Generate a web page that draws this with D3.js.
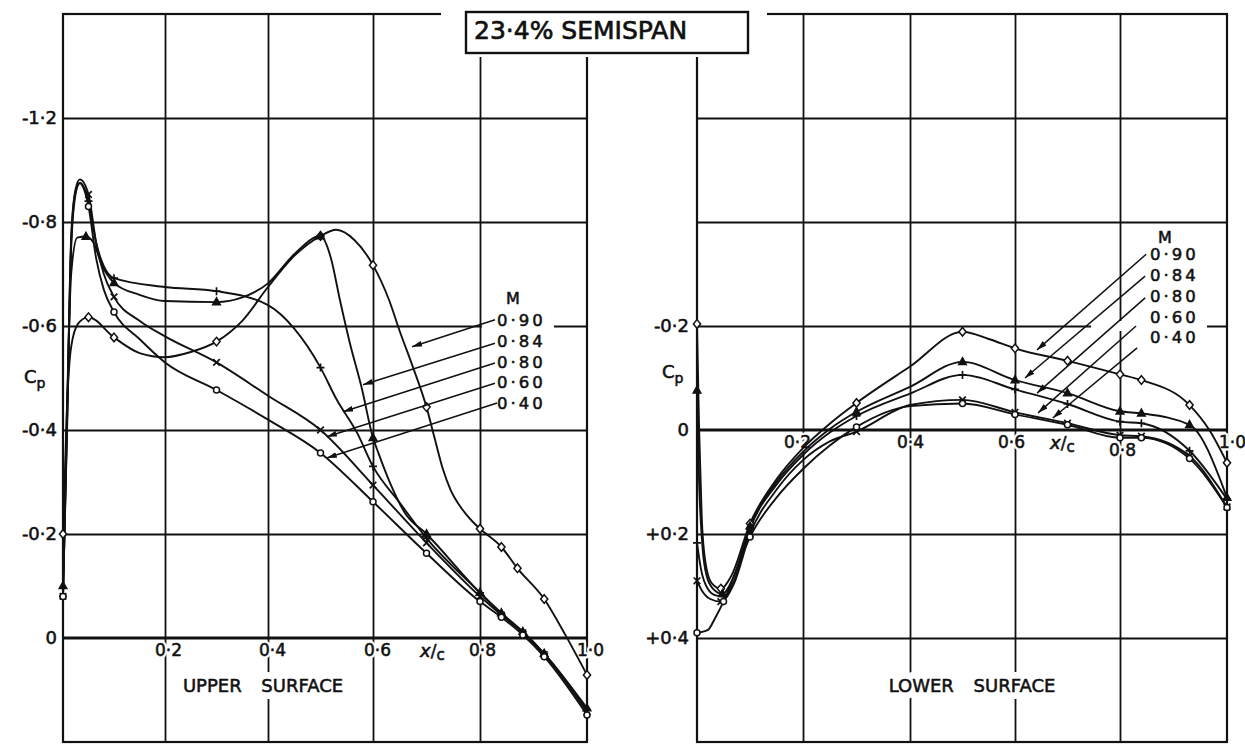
<!DOCTYPE html>
<html>
<head>
<meta charset="utf-8">
<script src="https://cdn.jsdelivr.net/npm/d3@7"></script>
<style>
  html, body { margin: 0; padding: 0; background: #fff; }
  svg { display: block; }
  text { font-family: "DejaVu Sans", sans-serif; fill: #111; }
</style>
</head>
<body>
<svg id="chart" width="1245" height="745"></svg>
<script>
// ---- Data -------------------------------------------------------------
const machLabels = ["0·90", "0·84", "0·80", "0·60", "0·40"];
const markerShapes = ["diamond", "triangle", "plus", "cross", "circle"];

const xGridValues = [0.2, 0.4, 0.6, 0.8];
const xTickValues = [0.2, 0.4, 0.6, 0.8, 1.0];
const xTickLabels = ["0·2", "0·4", "0·6", "0·8", "1·0"];

const upperYGrid = [-1.0, -0.8, -0.6, -0.4, -0.2];
const upperYTicks = [0, -0.2, -0.4, -0.6, -0.8, -1.0];
const upperYTickLabels = ["0", "-0·2", "-0·4", "-0·6", "-0·8", "-1·2"];

const lowerYGrid = [-0.6, -0.4, -0.2, 0.2, 0.4];
const lowerYTicks = [0.4, 0.2, 0, -0.2];
const lowerYTickLabels = ["+0·4", "+0·2", "0", "-0·2"];

// each point: [x/c, Cp, 1 = measured orifice (marker drawn)]
const upperM090 = [[0,-0.2,1],[0.008,-0.45,0],[0.016,-0.56,0],[0.03,-0.605,0],[0.05,-0.617,1],[0.1,-0.578,1],
  [0.15,-0.548,0],[0.2,-0.54,0],[0.25,-0.55,0],[0.3,-0.57,1],[0.35,-0.61,0],[0.4,-0.675,0],[0.45,-0.735,0],
  [0.5,-0.773,1],[0.53,-0.785,0],[0.565,-0.765,0],[0.6,-0.717,1],[0.63,-0.65,0],[0.65,-0.59,0],[0.675,-0.52,0],
  [0.7,-0.444,1],[0.715,-0.385,0],[0.73,-0.327,0],[0.745,-0.285,0],[0.765,-0.25,0],[0.785,-0.225,0],[0.8,-0.21,1],
  [0.84,-0.175,1],[0.87,-0.134,1],[0.92,-0.075,1],[0.96,-0.005,0],[1.0,0.071,1]];
const upperM084 = [[0,-0.1,1],[0.008,-0.45,0],[0.016,-0.7,0],[0.028,-0.77,0],[0.045,-0.772,1],[0.06,-0.76,0],
  [0.075,-0.72,0],[0.1,-0.683,1],[0.15,-0.66,0],[0.2,-0.648,0],[0.3,-0.646,1],[0.35,-0.655,0],[0.4,-0.682,0],
  [0.45,-0.738,0],[0.5,-0.773,1],[0.52,-0.73,0],[0.537,-0.65,0],[0.556,-0.567,0],[0.578,-0.483,0],[0.6,-0.385,1],
  [0.61,-0.356,0],[0.632,-0.298,0],[0.66,-0.24,0],[0.7,-0.2,1],[0.8,-0.087,1],[0.84,-0.048,1],[0.88,-0.012,1],
  [0.92,0.03,1],[1.0,0.135,1]];
const upperM080 = [[0,-0.08,1],[0.008,-0.42,0],[0.016,-0.76,0],[0.024,-0.855,0],[0.034,-0.875,0],[0.05,-0.84,1],
  [0.065,-0.76,0],[0.08,-0.715,0],[0.1,-0.692,1],[0.2,-0.675,0],[0.3,-0.667,1],[0.4,-0.64,0],[0.45,-0.595,0],
  [0.5,-0.52,1],[0.53,-0.46,0],[0.57,-0.394,0],[0.6,-0.33,1],[0.65,-0.26,0],[0.7,-0.192,1],[0.8,-0.087,1],
  [0.84,-0.046,1],[0.88,-0.012,1],[0.92,0.03,1],[1.0,0.138,1]];
const upperM060 = [[0,-0.08,1],[0.008,-0.42,0],[0.016,-0.77,0],[0.024,-0.86,0],[0.033,-0.882,0],[0.05,-0.853,1],
  [0.065,-0.76,0],[0.08,-0.7,0],[0.1,-0.656,1],[0.15,-0.61,0],[0.2,-0.58,0],[0.3,-0.53,1],[0.4,-0.466,0],
  [0.5,-0.4,1],[0.6,-0.294,1],[0.7,-0.183,1],[0.8,-0.08,1],[0.84,-0.044,1],[0.88,-0.01,1],[0.92,0.032,1],[1.0,0.142,1]];
const upperM040 = [[0,-0.08,1],[0.008,-0.4,0],[0.016,-0.75,0],[0.024,-0.85,0],[0.032,-0.875,0],[0.05,-0.83,1],
  [0.065,-0.73,0],[0.08,-0.67,0],[0.1,-0.627,1],[0.15,-0.575,0],[0.2,-0.53,0],[0.3,-0.477,1],[0.4,-0.42,0],
  [0.5,-0.356,1],[0.6,-0.262,1],[0.7,-0.163,1],[0.8,-0.07,1],[0.84,-0.04,1],[0.88,-0.006,1],[0.92,0.036,1],[1.0,0.148,1]];

const lowerM090 = [[0,-0.204,1],[0.004,0.0,0],[0.009,0.17,0],[0.016,0.255,0],[0.028,0.295,0],[0.045,0.305,1],
  [0.065,0.28,0],[0.1,0.18,1],[0.15,0.095,0],[0.2,0.035,0],[0.25,-0.012,0],[0.3,-0.052,1],[0.4,-0.122,0],
  [0.5,-0.189,1],[0.55,-0.175,0],[0.6,-0.157,1],[0.7,-0.133,1],[0.8,-0.107,1],[0.84,-0.096,1],[0.93,-0.048,1],
  [0.967,0.0,0],[1.0,0.063,1]];
const lowerM084 = [[0,-0.076,1],[0.004,0.1,0],[0.01,0.22,0],[0.018,0.28,0],[0.03,0.305,0],[0.048,0.315,1],
  [0.068,0.285,0],[0.1,0.185,1],[0.15,0.1,0],[0.2,0.042,0],[0.25,-0.002,0],[0.3,-0.035,1],[0.4,-0.083,0],
  [0.5,-0.131,1],[0.6,-0.096,1],[0.7,-0.071,1],[0.8,-0.036,1],[0.84,-0.032,1],[0.93,-0.01,1],[1.0,0.13,1]];
const lowerM080 = [[0,0.217,1],[0.008,0.27,0],[0.02,0.305,0],[0.035,0.318,0],[0.05,0.32,1],[0.07,0.29,0],
  [0.1,0.19,1],[0.15,0.105,0],[0.2,0.048,0],[0.25,0.005,0],[0.3,-0.027,1],[0.4,-0.07,0],[0.5,-0.106,1],
  [0.6,-0.078,1],[0.7,-0.05,1],[0.8,-0.016,1],[0.84,-0.013,1],[0.93,0.04,1],[1.0,0.133,1]];
const lowerM060 = [[0,0.29,1],[0.01,0.31,0],[0.025,0.325,0],[0.045,0.33,1],[0.07,0.295,0],[0.1,0.2,1],
  [0.15,0.115,0],[0.2,0.058,0],[0.25,0.022,0],[0.3,0.003,1],[0.4,-0.048,0],[0.5,-0.058,1],[0.6,-0.034,1],
  [0.7,-0.013,1],[0.8,0.01,1],[0.84,0.012,1],[0.93,0.05,1],[1.0,0.148,1]];
const lowerM040 = [[0,0.39,1],[0.02,0.385,0],[0.035,0.36,0],[0.05,0.33,1],[0.07,0.28,0],[0.1,0.206,1],
  [0.15,0.13,0],[0.2,0.075,0],[0.25,0.03,0],[0.3,-0.006,1],[0.4,-0.046,0],[0.5,-0.051,1],[0.6,-0.03,1],
  [0.7,-0.01,1],[0.8,0.015,1],[0.84,0.015,1],[0.93,0.055,1],[1.0,0.149,1]];

// leader lines from the Mach-number key to each curve, in (x/c, Cp)
const upperLeaderFrom = [[0.828,-0.612],[0.828,-0.567],[0.828,-0.529],[0.828,-0.49],[0.832,-0.452]];
const upperLeaderTo   = [[0.673,-0.56],[0.581,-0.487],[0.543,-0.435],[0.512,-0.387],[0.512,-0.346]];
const lowerLeaderFrom = [[0.849,-0.338],[0.847,-0.296],[0.847,-0.254],[0.83,-0.2],[0.832,-0.158]];
const lowerLeaderTo   = [[0.642,-0.154],[0.619,-0.1],[0.642,-0.071],[0.644,-0.033],[0.672,-0.023]];

// ---- Drawing ----------------------------------------------------------
const INK = "#111";
const svg = d3.select("#chart");
const defs = svg.append("defs");
defs.append("marker")
  .attr("id", "arrowhead").attr("viewBox", "0 0 10 6")
  .attr("refX", 10).attr("refY", 3)
  .attr("markerWidth", 10).attr("markerHeight", 6)
  .attr("markerUnits", "userSpaceOnUse").attr("orient", "auto")
  .append("path").attr("d", "M0,0L10,3L0,6Z").attr("fill", INK);

svg.append("rect").attr("width", 1245).attr("height", 745).attr("fill", "#fff");

// inked lettering: a thin outline thickens the strokes like pen lettering
function ink(sel, w = 0.55) {
  sel.attr("stroke", INK).attr("stroke-width", w).attr("stroke-linejoin", "round");
}
// text that blanks the grid behind it: a white-outlined copy is placed underneath
function haloed(sel, w) {
  sel.each(function () {
    const halo = this.cloneNode(true);
    this.parentNode.insertBefore(halo, this);
    d3.select(halo).attr("fill", "#fff").attr("stroke", "#fff").attr("stroke-width", w)
      .attr("stroke-linejoin", "round")
      .selectAll("tspan").attr("fill", "#fff");
  });
  ink(sel);
}

function drawSymbol(g, shape, px, py) {
  if (shape === "circle") {
    g.append("circle").attr("cx", px).attr("cy", py).attr("r", 3)
      .attr("fill", "#fff").attr("stroke", INK).attr("stroke-width", 1.5);
    return;
  }
  const s = g.append("path").attr("stroke", INK).attr("stroke-width", 1.5).attr("fill", "#fff");
  if (shape === "diamond") {
    s.attr("d", `M${px},${py - 4.3}L${px + 3.6},${py}L${px},${py + 4.3}L${px - 3.6},${py}Z`);
  } else if (shape === "triangle") {
    s.attr("d", `M${px},${py - 4.2}L${px + 3.8},${py + 2.6}L${px - 3.8},${py + 2.6}Z`).attr("fill", INK);
  } else if (shape === "plus") {
    s.attr("d", `M${px - 4},${py}H${px + 4}M${px},${py - 4}V${py + 4}`).attr("stroke-width", 1.7);
  } else {
    s.attr("d", `M${px - 3.3},${py - 3.3}L${px + 3.3},${py + 3.3}M${px + 3.3},${py - 3.3}L${px - 3.3},${py + 3.3}`).attr("stroke-width", 1.7);
  }
}

function drawPanel(p) {
  const x = d3.scaleLinear().domain([0, 0.2, 0.4, 0.6, 0.8, 1.0]).range(p.xRange);
  const y = d3.scaleLinear().domain(p.yDomain).range([14, 742]);
  const x0 = x(0), x1 = x(1), yTop = y.range()[0], yBot = y.range()[1];
  const g = svg.append("g");

  // grid
  g.append("g").attr("transform", `translate(0,${yBot})`)
    .call(d3.axisBottom(x).tickValues(xGridValues).tickSize(-(yBot - yTop)).tickFormat(""))
    .call(a => a.select(".domain").remove())
    .selectAll("line").attr("stroke", INK).attr("stroke-width", 1.8);
  g.append("g").attr("transform", `translate(${x0},0)`)
    .call(d3.axisLeft(y).tickValues(p.yGrid).tickSize(-(x1 - x0)).tickFormat(""))
    .call(a => a.select(".domain").remove())
    .selectAll("line").attr("stroke", INK).attr("stroke-width", 1.8);
  g.append("line").attr("x1", x0).attr("x2", x1).attr("y1", y(0)).attr("y2", y(0))
    .attr("stroke", INK).attr("stroke-width", 3);
  g.append("rect").attr("x", x0).attr("y", yTop).attr("width", x1 - x0).attr("height", yBot - yTop)
    .attr("fill", "none").attr("stroke", INK).attr("stroke-width", 2.2);

  // break in the grid line behind the Mach key
  g.append("rect").attr("x", p.keyGap[0]).attr("y", p.keyGap[1])
    .attr("width", p.keyGap[2]).attr("height", 10).attr("fill", "#fff");

  // y tick labels (outside, left)
  const ya = g.append("g").attr("transform", `translate(${p.yLabelX},0)`)
    .call(d3.axisLeft(y).tickValues(p.yTicks).tickSize(0).tickPadding(0)
      .tickFormat((d, i) => p.yTickLabels[i]));
  ya.select(".domain").remove();
  ya.selectAll("text").attr("font-family", "DejaVu Sans, sans-serif").attr("font-size", 18)
    .attr("fill", INK).attr("text-anchor", "end").call(ink);

  // C_p label
  const cp = g.append("text").attr("x", p.cpPos[0]).attr("y", p.cpPos[1]).attr("font-size", 18).call(ink);
  cp.append("tspan").text("C");
  cp.append("tspan").attr("font-size", 14).attr("dy", 5).text("p");

  // x tick labels along the Cp = 0 line
  const xa = g.append("g").attr("transform", `translate(0,${y(0)})`)
    .call(d3.axisBottom(x).tickValues(xTickValues).tickSize(0).tickPadding(6)
      .tickFormat((d, i) => xTickLabels[i]));
  xa.select(".domain").remove();
  xa.selectAll("text").attr("font-family", "DejaVu Sans, sans-serif").attr("font-size", 17)
    .attr("fill", INK).attr("dx", (d, i) => p.xLabelDx[i])
    .attr("dy", (d, i) => (0.71 * 17 + p.xLabelDy[i]) + "px")
    .call(s => haloed(s, 5));

  // x/c label
  const xc = g.append("text").attr("x", p.xcPos[0]).attr("y", p.xcPos[1]).attr("font-size", 18);
  xc.append("tspan").attr("font-style", "italic").text("x");
  xc.append("tspan").attr("font-size", 17).text("/");
  xc.append("tspan").attr("font-size", 15).attr("dy", 3).text("c");
  haloed(xc, 5);

  // surface caption
  g.append("text").attr("x", (x0 + x1) / 2 + p.captionDx).attr("y", 692)
    .attr("text-anchor", "middle").attr("font-size", 18).attr("word-spacing", 14)
    .text(p.caption).call(s => haloed(s, 14));

  // curves
  const line = d3.line().x(d => x(d[0])).y(d => y(d[1])).curve(d3.curveMonotoneX);
  p.series.forEach(pts => {
    g.append("path").datum(pts).attr("d", line)
      .attr("fill", "none").attr("stroke", INK).attr("stroke-width", 1.9);
  });
  p.series.forEach((pts, si) => {
    const mg = g.append("g");
    pts.filter(d => d[2]).forEach(d => drawSymbol(mg, markerShapes[si], x(d[0]), y(d[1])));
  });

  // Mach-number key with leader arrows
  p.leaderFrom.forEach((f, i) => {
    const t = p.leaderTo[i];
    g.append("line").attr("x1", x(f[0])).attr("y1", y(f[1])).attr("x2", x(t[0])).attr("y2", y(t[1]))
      .attr("stroke", INK).attr("stroke-width", 1.5).attr("marker-end", "url(#arrowhead)");
  });
  g.append("text").attr("x", p.keyM[0]).attr("y", p.keyM[1]).attr("text-anchor", "middle")
    .attr("font-size", 16).attr("dy", "0.36em").text("M").call(ink);
  machLabels.forEach((lab, i) => {
    g.append("text").attr("x", p.keyX).attr("y", p.keyY[i]).attr("dy", "0.36em")
      .attr("font-size", 16.5).attr("letter-spacing", 3).text(lab).call(ink);
  });
}

drawPanel({
  xRange: [63, 165, 268, 373, 480, 587],
  yDomain: [-1.2, 0.2],
  yGrid: upperYGrid, yTicks: upperYTicks, yTickLabels: upperYTickLabels,
  yLabelX: 57, cpPos: [24, 383],
  xLabelDx: [3, 4, 4, 2, 3], xLabelDy: [0, 0, 0, 0, 0], xcPos: [420, 657],
  caption: "UPPER SURFACE", captionDx: -62,
  series: [upperM090, upperM084, upperM080, upperM060, upperM040],
  leaderFrom: upperLeaderFrom, leaderTo: upperLeaderTo,
  keyGap: [482, 322, 72], keyM: [513, 298], keyX: 497, keyY: [320, 341, 362, 382, 403]
});

drawPanel({
  xRange: [697, 803, 910, 1015, 1120, 1227],
  yDomain: [-0.8, 0.6],
  yGrid: lowerYGrid, yTicks: lowerYTicks, yTickLabels: lowerYTickLabels,
  yLabelX: 689, cpPos: [662, 378],
  xLabelDx: [-6, 0, -4, 2, 5], xLabelDy: [0, 0, 0, 8, 0], xcPos: [1050, 449],
  caption: "LOWER SURFACE", captionDx: 10,
  series: [lowerM090, lowerM084, lowerM080, lowerM060, lowerM040],
  leaderFrom: lowerLeaderFrom, leaderTo: lowerLeaderTo,
  keyGap: [1091, 321, 116], keyM: [1165, 237], keyX: 1150, keyY: [254, 275, 296, 317, 337]
});

// title block spanning the gap between the two panels
svg.append("rect").attr("x", 441).attr("y", 0).attr("width", 326).attr("height", 57).attr("fill", "#fff");
svg.append("rect").attr("x", 466).attr("y", 12).attr("width", 282).attr("height", 41)
  .attr("fill", "#fff").attr("stroke", INK).attr("stroke-width", 2.4);
svg.append("text").attr("x", 474).attr("y", 39).attr("font-size", 25).text("23·4% SEMISPAN").call(s => ink(s, 0.7));
</script>
</body>
</html>
